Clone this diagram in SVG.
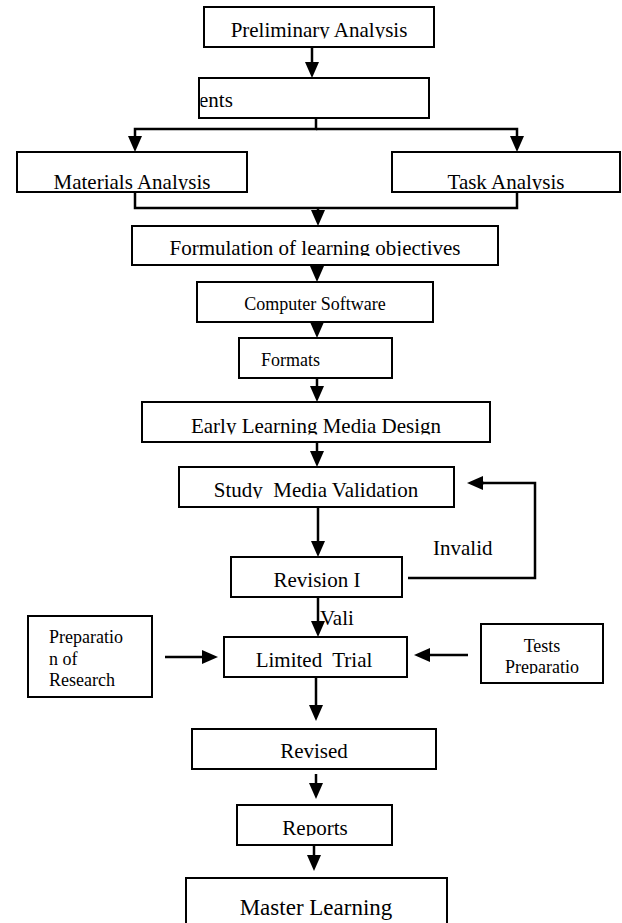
<svg xmlns="http://www.w3.org/2000/svg" width="622" height="923" viewBox="0 0 622 923">
<style>
  .box { fill: #ffffff; stroke: #000000; stroke-width: 2; }
  .t { font-family: "Liberation Serif", "Times New Roman", serif; font-size: 21px; fill: #000000; }
  .mid { text-anchor: middle; }
  .s18 { font-size: 18px; }
  .s23 { font-size: 23px; }
  .ln { fill: none; stroke: #000000; stroke-width: 2.5; }
  .ar { fill: none; stroke: #000000; stroke-width: 2.5; marker-end: url(#head); }
</style>
<defs>
  <marker id="head" markerUnits="userSpaceOnUse" markerWidth="16" markerHeight="14" refX="0" refY="7" orient="auto" viewBox="0 0 16 14">
    <path d="M0,0 L16,7 L0,14 z" fill="#000000"/>
  </marker>
  <clipPath id="c1"><rect x="200" y="0" width="240" height="38.5"/></clipPath>
  <clipPath id="c2"><rect x="200.5" y="78" width="228" height="40"/></clipPath>
  <clipPath id="c3"><rect x="0" y="150" width="622" height="40"/></clipPath>
  <clipPath id="c5"><rect x="130" y="226" width="370" height="30"/></clipPath>
  <clipPath id="c8"><rect x="140" y="402" width="350" height="32.5"/></clipPath>
  <clipPath id="c9"><rect x="179" y="467" width="275" height="31.5"/></clipPath>
  <clipPath id="c10"><rect x="231" y="557" width="171" height="31.5"/></clipPath>
  <clipPath id="c11"><rect x="224" y="637" width="183" height="31.5"/></clipPath>
  <clipPath id="c13"><rect x="481" y="624" width="122" height="50"/></clipPath>
  <clipPath id="c14"><rect x="192" y="729" width="244" height="30.5"/></clipPath>
  <clipPath id="c15"><rect x="237" y="805" width="155" height="31"/></clipPath>
  <clipPath id="cv"><rect x="300" y="609" width="80" height="30"/></clipPath>
</defs>

<g id="connectors">
  <path class="ar" d="M312,48 V62"/>
  <path class="ar" d="M316,118 V129 H135 V136"/>
  <path class="ar" d="M316,129 H517 V136"/>
  <path class="ln" d="M135,192 V208 H517 V192"/>
  <path class="ar" d="M318,208 V210"/>
  <path class="ar" d="M317,264 V266"/>
  <path class="ar" d="M317,320 V322"/>
  <path class="ar" d="M317,378 V386"/>
  <path class="ar" d="M317,442 V451"/>
  <path class="ar" d="M318,507 V541"/>
  <path class="ln" d="M408,578 H535 V483 H482"/>
  <path class="ar" d="M484,483 H483"/>
  <path class="ar" d="M318,597 V621"/>
  <path class="ar" d="M165,657 H202"/>
  <path class="ar" d="M468,655 H430"/>
  <path class="ar" d="M316,677 V705"/>
  <path class="ar" d="M316,774 V783"/>
  <path class="ar" d="M314,845 V855"/>
  <text class="t" x="433" y="555">Invalid</text>
  <text class="t" x="320" y="625" clip-path="url(#cv)">Vali</text>
</g>

<g id="preliminary-analysis">
  <rect class="box" x="204" y="7" width="230" height="40"/>
  <text class="t mid" x="319" y="37" clip-path="url(#c1)">Preliminary Analysis</text>
</g>
<g id="requirements">
  <rect class="box" x="199" y="78" width="230" height="40"/>
  <text class="t" x="199" y="107" clip-path="url(#c2)">ents</text>
</g>
<g id="materials-analysis">
  <rect class="box" x="17" y="152" width="230" height="40"/>
  <text class="t mid" x="132" y="189" clip-path="url(#c3)">Materials Analysis</text>
</g>
<g id="task-analysis">
  <rect class="box" x="392" y="152" width="228" height="40"/>
  <text class="t mid" x="506" y="189" clip-path="url(#c3)">Task Analysis</text>
</g>
<g id="formulation">
  <rect class="box" x="132" y="226" width="366" height="39"/>
  <text class="t mid" x="315" y="255" clip-path="url(#c5)">Formulation of learning objectives</text>
</g>
<g id="computer-software">
  <rect class="box" x="197" y="282" width="236" height="40"/>
  <text class="t mid s18" x="315" y="310">Computer Software</text>
</g>
<g id="formats">
  <rect class="box" x="239" y="338" width="153" height="40"/>
  <text class="t s18" x="261" y="366">Formats</text>
</g>
<g id="early-design">
  <rect class="box" x="142" y="402" width="348" height="40"/>
  <text class="t mid" x="316" y="433" clip-path="url(#c8)">Early Learning Media Design</text>
</g>
<g id="study-validation">
  <rect class="box" x="179" y="467" width="275" height="40"/>
  <text class="t mid" x="316" y="497" clip-path="url(#c9)" xml:space="preserve">Study  Media Validation</text>
</g>
<g id="revision-1">
  <rect class="box" x="231" y="557" width="171" height="40"/>
  <text class="t mid" x="317" y="587" clip-path="url(#c10)">Revision I</text>
</g>
<g id="limited-trial">
  <rect class="box" x="224" y="637" width="183" height="40"/>
  <text class="t mid" x="314" y="667" clip-path="url(#c11)" xml:space="preserve">Limited  Trial</text>
</g>
<g id="preparation-research">
  <rect class="box" x="28" y="616" width="124" height="81"/>
  <text class="t s18" x="49" y="643">Preparatio</text>
  <text class="t s18" x="49" y="665">n of</text>
  <text class="t s18" x="49" y="686">Research</text>
</g>
<g id="tests-preparation">
  <rect class="box" x="481" y="624" width="122" height="59"/>
  <text class="t mid s18" x="542" y="652">Tests</text>
  <text class="t mid s18" x="542" y="673" clip-path="url(#c13)">Preparatio</text>
</g>
<g id="revised">
  <rect class="box" x="192" y="729" width="244" height="40"/>
  <text class="t mid" x="314" y="758" clip-path="url(#c14)">Revised</text>
</g>
<g id="reports">
  <rect class="box" x="237" y="805" width="155" height="40"/>
  <text class="t mid" x="315" y="835" clip-path="url(#c15)">Reports</text>
</g>
<g id="master-learning">
  <rect class="box" x="186" y="878" width="261" height="60"/>
  <text class="t mid s23" x="316" y="915">Master Learning</text>
</g>
</svg>
